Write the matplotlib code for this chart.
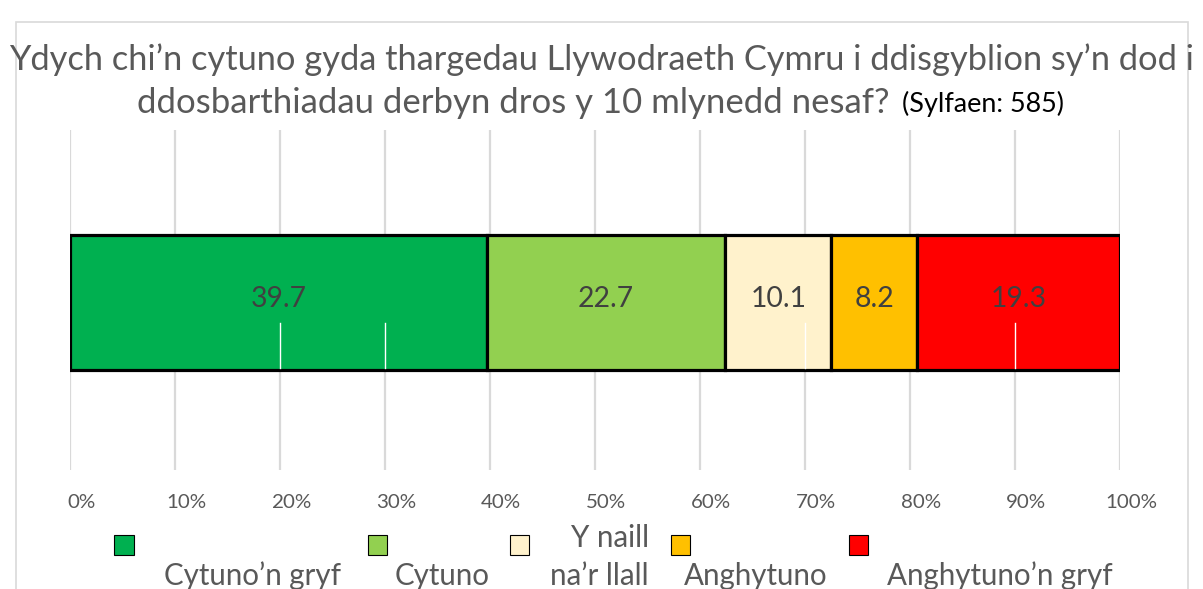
import matplotlib
matplotlib.use("Agg")
import matplotlib.pyplot as plt
from matplotlib.patches import Rectangle
from matplotlib.transforms import blended_transform_factory
import numpy as np

categories = ["Cytuno’n gryf", "Cytuno", "Y naill\nna’r llall", "Anghytuno", "Anghytuno’n gryf"]
values = [39.7, 22.7, 10.1, 8.2, 19.3]
colors = ["#00B050", "#92D050", "#FFF2CC", "#FFC000", "#FF0000"]
tick_values = [0, 10, 20, 30, 40, 50, 60, 70, 80, 90, 100]
tick_labels = [f"{v}%" for v in tick_values]
title_line1 = "Ydych chi’n cytuno gyda thargedau Llywodraeth Cymru i ddisgyblion sy’n dod i"
title_line2 = "ddosbarthiadau derbyn dros y 10 mlynedd nesaf?"
title_base = "(Sylfaen: 585)"

FONT = ["Lato", "DejaVu Sans"]
plt.rcParams["font.family"] = FONT

W, H = 1203, 589
fig = plt.figure(figsize=(W / 100, H / 100), dpi=100)
fig.patch.set_facecolor("white")
renderer = fig.canvas.get_renderer()

def fx(px):
    return px / W

def fy(py):
    return 1 - py / H

def fit(t, target_w):
    for _ in range(3):
        w = t.get_window_extent(renderer=renderer).width
        if w > 0:
            t.set_fontsize(t.get_fontsize() * target_w / w)

# chart border
fig.patches.append(Rectangle((fx(16), fy(600)), fx(1188) - fx(16), fy(22) - fy(600),
                             transform=fig.transFigure, fill=False, edgecolor="#D9D9D9", lw=1.2))

ax = fig.add_axes([fx(70), fy(470), fx(1120) - fx(70), fy(130) - fy(470)])
ax.set_xlim(0, 100)
ax.set_ylim(0, 1)
for s in ax.spines.values():
    s.set_visible(False)
ax.set_yticks([])
ax.set_xticks(tick_values)
ax.set_xticklabels([])
ax.tick_params(axis="x", length=0)
for v in tick_values:
    ax.axvline(v, color="#D9D9D9", lw=1.6, zorder=0)

bar_y = 0.4926
bar_h = 0.397
lefts = np.concatenate([[0], np.cumsum(values)[:-1]])
ax.barh([bar_y] * len(values), values, left=lefts, height=bar_h,
        color=colors, edgecolor="black", linewidth=2.3, zorder=2)
val_texts = []
for l, v in zip(lefts, values):
    val_texts.append(ax.text(l + v / 2, bar_y + 0.01, f"{v}", ha="center", va="center",
                             fontsize=23, color="#404040", zorder=3))
fit(val_texts[0], 56)
for t in val_texts:
    t.set_fontsize(val_texts[0].get_fontsize())

# small white artefact lines inside the bar
for v in [20, 30, 70, 90]:
    ax.plot([v, v], [bar_y - bar_h / 2 + 0.005, bar_y - 0.06], color="white", lw=1, zorder=2.5)

# tick labels
tr = blended_transform_factory(ax.transData, fig.transFigure)
tick_texts = []
for v, t in zip(tick_values, tick_labels):
    tick_texts.append(ax.text(v + 1.05, fy(503), t, transform=tr, ha="center", va="center",
                              fontsize=15, color="#595959"))
fit(tick_texts[-1], 52)
for t in tick_texts:
    t.set_fontsize(tick_texts[-1].get_fontsize())

# title
t1 = fig.text(fx(602), fy(60), title_line1, ha="center", va="center", fontsize=27, color="#595959")
fit(t1, 1185)
t2 = fig.text(fx(137), fy(103), title_line2, ha="left", va="center", fontsize=27, color="#595959")
fit(t2, 752)
t3 = fig.text(fx(902), fy(104), title_base, ha="left", va="center", fontsize=15, color="#000000")
fit(t3, 162)

# legend
marker_x = [124, 377, 519, 680, 858]
label_x = [252, 442, 649, 756, 1000]
label_ha = ["center", "center", "right", "center", "center"]
leg_texts = []
for mx, lx, ha, c, lab in zip(marker_x, label_x, label_ha, colors, categories):
    fig.patches.append(Rectangle((fx(mx - 9.5), fy(555)), fx(19), fy(535) - fy(555),
                                 transform=fig.transFigure, facecolor=c, edgecolor="black", lw=0.8))
    lines = lab.split("\n")
    for i, line in enumerate(reversed(lines)):
        leg_texts.append(fig.text(fx(lx), fy(585 - 38 * i), line, ha=ha, va="baseline",
                                  fontsize=22, color="#595959"))
fit(leg_texts[-1], 226)
for t in leg_texts:
    t.set_fontsize(leg_texts[-1].get_fontsize())

fig.savefig("out.png", dpi=100)
